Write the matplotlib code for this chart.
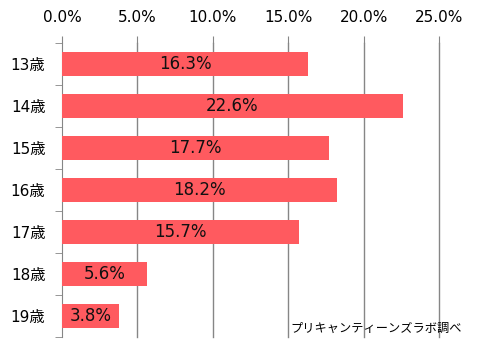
import matplotlib.pyplot as plt
import numpy as np

plt.rcParams['font.family'] = ['DejaVu Sans', 'Noto Sans CJK JP']

# データ
ages = ['13歳', '14歳', '15歳', '16歳', '17歳', '18歳', '19歳']
values = [16.3, 22.6, 17.7, 18.2, 15.7, 5.6, 3.8]
xticks = [0, 5, 10, 15, 20, 25]

fig = plt.figure(figsize=(4.8, 3.51), dpi=100)
ax = fig.add_axes([0.1292, 0.0407, 0.786, 0.8368])

y = np.arange(len(ages))
ax.barh(y, values, height=0.57, color='#FF5A5F', zorder=3)

for yi, v in zip(y, values):
    ax.text(v / 2, yi, f'{v:.1f}%', ha='center', va='center', fontsize=12, color='#111111', zorder=4)

ax.set_xlim(0, 25)
ax.set_ylim(len(ages) - 0.5, -0.5)

ax.xaxis.tick_top()
ax.set_xticks(xticks)
ax.set_xticklabels([f'{t:.1f}%' for t in xticks], fontsize=11)
ax.tick_params(axis='x', length=5, color='#868686', pad=8)
for t in xticks[1:]:
    ax.axvline(t, color='#868686', lw=1, zorder=1, clip_on=False)

ax.set_yticks(y)
ax.set_yticklabels(ages, fontsize=11)
ax.set_yticks(np.arange(len(ages) + 1) - 0.5, minor=True)
ax.tick_params(axis='y', which='major', length=0, pad=12)
ax.tick_params(axis='y', which='minor', length=5, color='#868686')

for s in ['top', 'right', 'bottom']:
    ax.spines[s].set_visible(False)
ax.spines['left'].set_color('#868686')

fig.text(290 / 480, 1 - 328 / 351, 'プリキャンティーンズラボ調べ', fontsize=8.8, va='center', ha='left')

fig.savefig('out.png', dpi=100)
